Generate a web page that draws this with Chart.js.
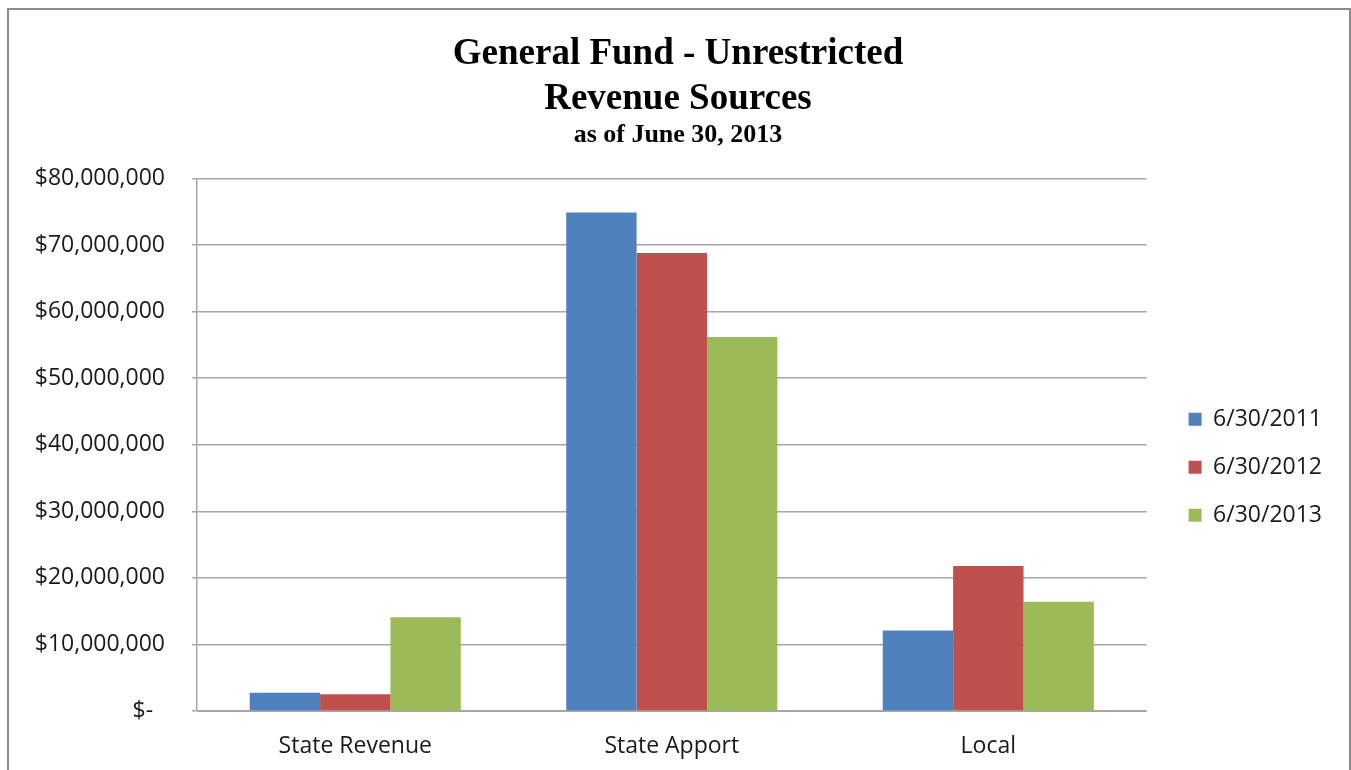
<!DOCTYPE html>
<html>
<head>
<meta charset="utf-8">
<script src="https://cdn.jsdelivr.net/npm/chart.js@4.4.1/dist/chart.umd.min.js"></script>
<style>
  html, body { margin: 0; padding: 0; background: #fff; overflow: hidden; }
  #frame {
    position: absolute; left: 7px; top: 8px; width: 1344px; height: 800px;
    border: 2px solid #8c8c8c; box-sizing: border-box;
  }
  #wrap { position: absolute; left: 0; top: 0; width: 1351px; height: 770px; }
</style>
</head>
<body>
<div id="frame"></div>
<div id="wrap"><canvas id="revChart"></canvas></div>
<script>
'use strict';

var categories = ["State Revenue", "State Apport", "Local"];
var seriesNames = ["6/30/2011", "6/30/2012", "6/30/2013"];
var fy2011 = [2750000, 74900000, 12100000];
var fy2012 = [2500000, 68800000, 21800000];
var fy2013 = [14100000, 56200000, 16400000];
var yTicks = [0, 10000000, 20000000, 30000000, 40000000, 50000000, 60000000, 70000000, 80000000];

var colors = {
  blue  : "#4f81bd",
  red   : "#c0504d",
  green : "#9bbb59",
  grid  : "#a6a6a6",
  text  : "#1a1a1a"
};

var tickFont = "'Open Sans', 'Liberation Sans', sans-serif";
var titleFont = "'Liberation Serif', 'DejaVu Serif', serif";

function money(v) {
  if (v === 0) return "$-  ";
  return "$" + v.toLocaleString("en-US");
}

new Chart(document.getElementById("revChart"), {
  type: 'bar',
  data: {
    labels: categories,
    datasets: [
      { label: seriesNames[0], data: fy2011, backgroundColor: colors.blue },
      { label: seriesNames[1], data: fy2012, backgroundColor: colors.red },
      { label: seriesNames[2], data: fy2013, backgroundColor: colors.green }
    ]
  },
  options: {
    responsive: true,
    maintainAspectRatio: false,
    animation: false,
    categoryPercentage: 0.667,
    barPercentage: 1.0,
    layout: { padding: { left: 24, right: 19, top: 32, bottom: 0 } },
    plugins: {
      tooltip: { enabled: false },
      title: {
        display: true,
        text: ["General Fund - Unrestricted", "Revenue Sources"],
        color: "#000",
        font: { family: titleFont, size: 37, weight: 'bold', lineHeight: 1.22 },
        padding: { top: 0, bottom: 0 }
      },
      subtitle: {
        display: true,
        text: "as of June 30, 2013",
        color: "#000",
        font: { family: titleFont, size: 26, weight: 'bold' },
        padding: { top: -3, bottom: 28 }
      },
      legend: {
        position: 'right',
        title: { display: true, text: ' ', font: { size: 12 }, padding: { top: 118, bottom: 0 } },
        labels: {
          color: colors.text,
          boxWidth: 13,
          boxHeight: 13,
          padding: 25,
          font: { family: tickFont, size: 23 }
        }
      }
    },
    scales: {
      x: {
        grid: { display: false },
        border: { display: true, color: colors.grid },
        ticks: { color: colors.text, padding: 14, font: { family: tickFont, size: 23 } },
        afterFit: function(s) { s.height = 59; }
      },
      y: {
        min: 0,
        max: 80000000,
        afterBuildTicks: function(s) { s.ticks = yTicks.map(function(v) { return { value: v }; }); },
        grid: { color: colors.grid, lineWidth: 1.5, tickLength: 5 },
        border: { display: true, color: colors.grid, width: 1.5 },
        ticks: { color: colors.text, padding: 27, font: { family: tickFont, size: 23 }, callback: money },
        afterFit: function(s) { s.width = 173; }
      },
      // empty axis on the right, only keeps a gap before the legend
      gap: {
        position: 'right',
        grid: { display: false },
        border: { display: false },
        ticks: { display: false },
        afterFit: function(s) { s.width = 17; }
      }
    }
  }
});
</script>
</body>
</html>
